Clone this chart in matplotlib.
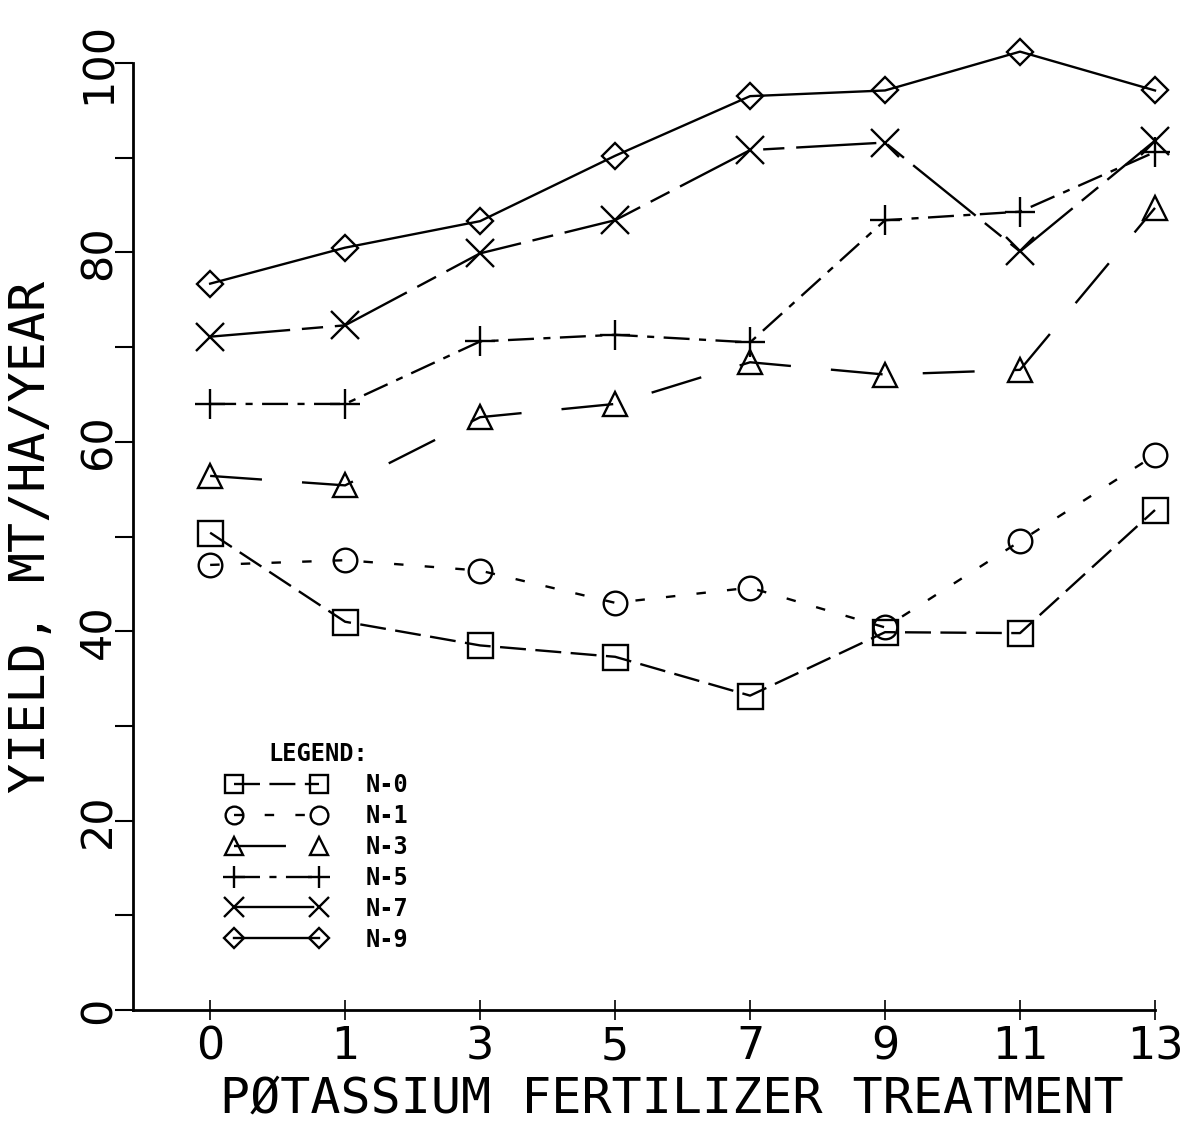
import matplotlib
matplotlib.use('Agg')
import matplotlib.pyplot as plt
from matplotlib.ticker import MultipleLocator

treatments = ['0', '1', '3', '5', '7', '9', '11', '13']
n0 = [50.4, 41.0, 38.5, 37.3, 33.2, 39.9, 39.8, 52.8]
n1 = [47.0, 47.5, 46.4, 43.0, 44.6, 40.4, 49.5, 58.6]
n3 = [56.4, 55.4, 62.6, 64.0, 68.4, 67.1, 67.6, 84.7]
n5 = [64.0, 64.0, 70.6, 71.3, 70.5, 83.4, 84.3, 90.6]
n7 = [71.1, 72.3, 79.9, 83.4, 90.8, 91.6, 80.1, 91.8]
n9 = [76.7, 80.5, 83.3, 90.2, 96.5, 97.1, 101.2, 97.1]
series_names = ['N-0', 'N-1', 'N-3', 'N-5', 'N-7', 'N-9']


def main():
    plt.rcParams['font.family'] = ['DejaVu Sans Mono', 'DejaVu Sans']
    fig = plt.figure(figsize=(12, 11.25), dpi=100)
    ax = fig.add_axes([0.111, 0.1022, 0.8515, 0.8418])

    x = list(range(len(treatments)))
    styles = [
        ('s', 18, (0, (11, 4))),
        ('o', 17, (0, (4, 9))),
        ('^', 17, (0, (22, 17))),
        ('+', 22, (0, (11, 4, 3, 4))),
        ('x', 20, (0, (34, 5, 9, 5))),
        ('D', 13, '-'),
    ]
    for ys, name, (mk, ms, ls) in zip([n0, n1, n3, n5, n7, n9], series_names, styles):
        ax.plot(x, ys, color='black', lw=1.7, linestyle=ls, marker=mk,
                markersize=ms, markerfacecolor='none', markeredgecolor='black',
                markeredgewidth=1.7, label=name, clip_on=False)

    ax.set_xlim(-0.57, 7)
    ax.set_ylim(0, 100)
    ax.set_xticks(x)
    ax.set_xticklabels(treatments)
    ax.yaxis.set_major_locator(MultipleLocator(20))
    ax.yaxis.set_minor_locator(MultipleLocator(10))

    for s in ['top', 'right']:
        ax.spines[s].set_visible(False)
    for s in ['left', 'bottom']:
        ax.spines[s].set_linewidth(2)

    ax.tick_params(axis='x', direction='inout', length=14, width=1.2,
                   labelsize=32, pad=4)
    ax.tick_params(axis='y', which='both', direction='out', length=13,
                   width=1.5, labelsize=31, pad=-3)
    for lbl in ax.get_xticklabels() + ax.get_yticklabels():
        lbl.set_family('DejaVu Sans')
    for lbl in ax.get_yticklabels():
        lbl.set_rotation(90)
        lbl.set_va('center')

    ax.set_xlabel('PØTASSIUM FERTILIZER TREATMENT', fontsize=36)
    ax.xaxis.set_label_coords(0.527, -0.068)
    ax.set_ylabel('YIELD, MT/HA/YEAR', fontsize=36, labelpad=16)

    ax.legend(loc='upper left', bbox_to_anchor=(0.08, 0.295),
              numpoints=2, frameon=False, handlelength=4.2,
              handletextpad=1.7, labelspacing=0.29, borderpad=0,
              title='LEGEND:', markerscale=0.75,
              prop={'size': 17, 'weight': 'bold'},
              title_fontproperties={'size': 17, 'weight': 'bold'})

    fig.savefig('out.png', dpi=100, facecolor='white')


if __name__ == '__main__':
    main()
